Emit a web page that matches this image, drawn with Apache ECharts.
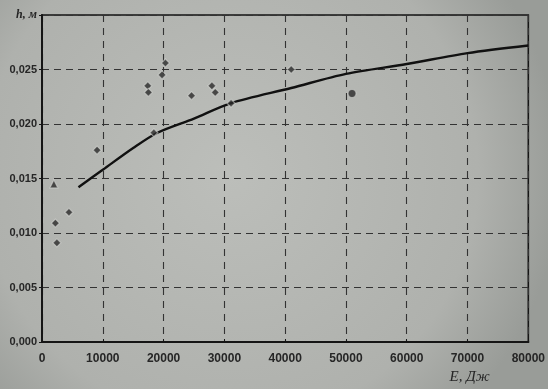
<!DOCTYPE html>
<html>
<head>
<meta charset="utf-8">
<script src="https://cdn.jsdelivr.net/npm/echarts@6/dist/echarts.min.js"></script>
<style>
  html, body { margin: 0; padding: 0; }
  #chart { width: 548px; height: 389px; }
</style>
</head>
<body>
<div id="chart"></div>
<script>
// Fitted trend h(E)
const curveE = [6000, 10000, 15000, 19000, 25000, 31000, 41000, 50000, 60000, 70000, 80000];
const curveH = [0.0142, 0.0158, 0.0178, 0.0192, 0.0205, 0.0219, 0.0233, 0.0246, 0.0255, 0.0265, 0.0272];

// Measured points
const pointE = [1950, 2200, 2450, 4430, 9060, 17400, 17500, 20300, 19750, 24600, 27950, 28500, 18400, 31100, 41000, 51000];
const pointH = [0.0145, 0.0109, 0.0091, 0.0119, 0.0176, 0.0235, 0.0229, 0.0256, 0.0245, 0.0226, 0.0235, 0.0229, 0.0192, 0.0219, 0.0250, 0.0228];
const pointShape = ['triangle', 'diamond', 'diamond', 'diamond', 'diamond', 'diamond', 'diamond', 'diamond', 'diamond', 'diamond', 'diamond', 'diamond', 'diamond', 'diamond', 'diamond', 'circle'];

// Axis tick labels
const yTickLabels = ['0,000', '0,005', '0,010', '0,015', '0,020', '0,025'];
const xTickLabels = ['0', '10000', '20000', '30000', '40000', '50000', '60000', '70000', '80000'];
const yAxisTitle = 'h, м';
const xAxisTitle = 'E, Дж';

const ink = '#262626';
const chart = echarts.init(document.getElementById('chart'));

const option = {
  backgroundColor: {
    type: 'radial', x: 0.42, y: 0.45, r: 0.85,
    colorStops: [
      { offset: 0, color: '#bcbeba' },
      { offset: 0.75, color: '#afb1ad' },
      { offset: 1, color: '#999c98' }
    ]
  },
  animation: false,
  grid: {
    left: 42, right: 16, top: 15, bottom: 47,
    show: true, borderColor: '#151515', borderWidth: 1.6,
    backgroundColor: 'transparent'
  },
  xAxis: {
    type: 'value', min: 0, max: 80000, interval: 10000,
    axisLine: { show: true, lineStyle: { color: '#151515', width: 2 } },
    axisTick: { show: true, length: 3, inside: true, lineStyle: { color: '#151515' } },
    axisLabel: {
      margin: 11, color: ink, fontFamily: 'Liberation Sans, Arial', fontSize: 12, fontWeight: 'bold',
      formatter: v => xTickLabels[Math.round(v / 10000)]
    },
    splitLine: { show: true, lineStyle: { color: '#333', type: [7, 6], width: 1.1 } }
  },
  yAxis: {
    type: 'value', min: 0, max: 0.030, interval: 0.005,
    axisLine: { show: true, lineStyle: { color: '#151515', width: 2 } },
    axisTick: { show: true, length: 3, lineStyle: { color: '#151515' } },
    axisLabel: {
      margin: 5, color: ink, fontFamily: 'Liberation Sans, Arial', fontSize: 11, fontWeight: 'bold',
      formatter: v => {
        const i = Math.round(v / 0.005);
        return i < yTickLabels.length ? yTickLabels[i] : '{t|' + yAxisTitle + '}';
      },
      rich: { t: { fontFamily: 'Liberation Serif, Times New Roman', fontStyle: 'italic', fontSize: 12, fontWeight: 'bold', color: ink } }
    },
    splitLine: { show: true, lineStyle: { color: '#333', type: [7, 5], width: 1.1 } }
  },
  series: [
    {
      type: 'line',
      data: curveE.map((e, i) => [e, curveH[i]]),
      smooth: 0.3,
      showSymbol: false,
      lineStyle: { color: '#111', width: 2.4 },
      z: 3
    },
    {
      type: 'scatter',
      data: pointE.map((e, i) => ({ value: [e, pointH[i]], symbol: pointShape[i] })),
      symbolSize: 8,
      itemStyle: { color: '#2b2b2b', borderColor: 'rgba(220,222,218,0.7)', borderWidth: 1.2 },
      z: 4
    }
  ]
};
chart.setOption(option);

// Axis title under the 70000 tick
const anchor = chart.convertToPixel({ gridIndex: 0 }, [71000, 0]);
chart.setOption({
  graphic: [{
    type: 'text',
    left: anchor[0] - 24,
    top: anchor[1] + 28,
    style: {
      text: xAxisTitle,
      fill: ink,
      font: 'italic 15px "Liberation Serif", "Times New Roman", serif'
    }
  }]
});
</script>
</body>
</html>
